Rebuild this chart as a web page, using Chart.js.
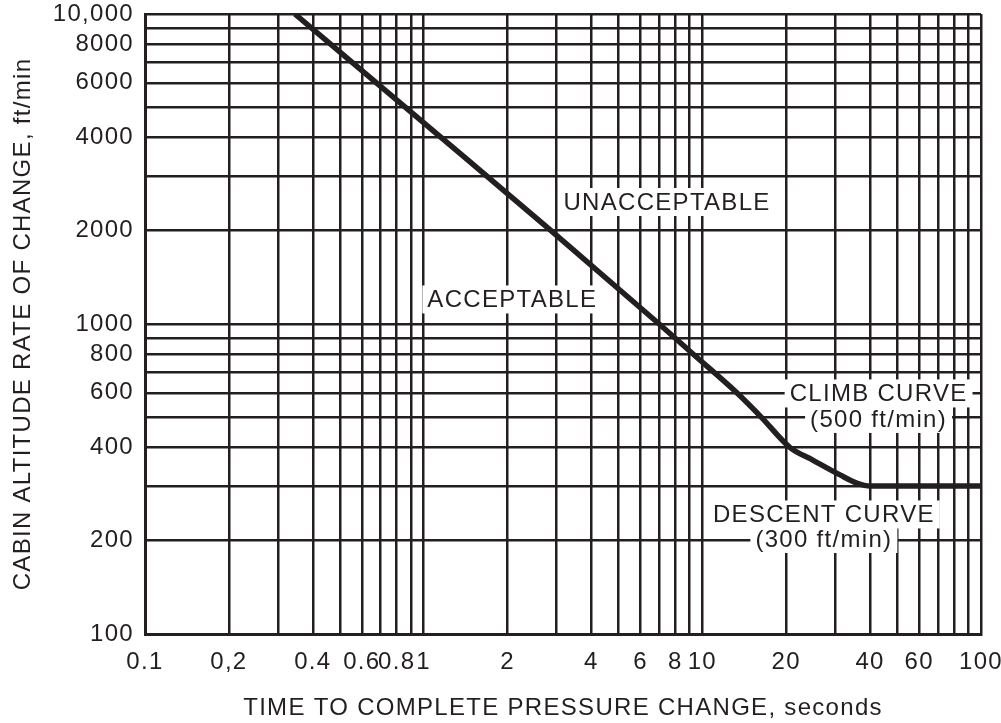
<!DOCTYPE html>
<html>
<head>
<meta charset="utf-8">
<script src="https://cdn.jsdelivr.net/npm/chart.js@4/dist/chart.umd.min.js"></script>
<style>
  html, body { margin: 0; padding: 0; background: #fff; }
  #wrap { width: 1001px; height: 723px; }
</style>
</head>
<body>
<div id="wrap"><canvas id="chart" width="1001" height="723"></canvas></div>
<script>
// curve (seconds, ft/min)
const curveTime = [0.345, 1.154, 2.864, 7.0, 9.26, 13.3, 16.3, 20.6, 24.9, 31.2, 35.8, 40, 60, 100];
const curveRate = [10000, 4000, 2000, 1000, 800, 600, 500, 400, 364, 326, 307, 300, 300, 300];

// grid lines
const xGrid = [0.1, 0.2, 0.3, 0.4, 0.5, 0.6, 0.7, 0.8, 0.9, 1, 2, 3, 4, 5, 6, 7, 8, 9, 10, 20, 30, 40, 50, 60, 70, 80, 90, 100];
const yGrid = [100, 200, 300, 400, 500, 600, 700, 800, 900, 1000, 2000, 3000, 4000, 5000, 6000, 7000, 8000, 9000, 10000];

// tick labels
const xLabelVals = [0.1, 0.2, 0.4, 0.6, 0.8, 1, 2, 4, 6, 8, 10, 20, 40, 60, 100];
const xLabelText = ["0.1", "0,2", "0.4", "0.6", "0.8", "1", "2", "4", "6", "8", "10", "20", "40", "60", "100"];
const yLabelVals = [100, 200, 400, 600, 800, 1000, 2000, 4000, 6000, 8000, 10000];
const yLabelText = ["100", "200", "400", "600", "800", "1000", "2000", "4000", "6000", "8000", "10,000"];

// notes on the chart
const noteText = ["UNACCEPTABLE", "ACCEPTABLE", "CLIMB CURVE", "(500 ft/min)", "DESCENT CURVE", "(300 ft/min)"];
const noteX = [7.47, 2.08, 42.9, 42.9, 27.3, 27.3];
const noteY = [2475, 1200, 597, 494, 243, 202.5];

const ink = "#231f20";
const font = "'Liberation Sans', Arial, Helvetica, sans-serif";
const spacing = "1.3px";

const pickLabel = (vals, texts) => (value) => {
  const i = vals.findIndex((v) => Math.abs(v - value) / v < 1e-6);
  return i >= 0 ? texts[i] : "";
};

// the printed type is a bit wider than Liberation Sans
const spacingPlugin = {
  id: "spacing",
  beforeDraw(chart) {
    chart.ctx.letterSpacing = spacing;
  },
};

const notesPlugin = {
  id: "notes",
  afterDatasetsDraw(chart) {
    const ctx = chart.ctx;
    const xs = chart.scales.x;
    const ys = chart.scales.y;
    ctx.save();
    ctx.letterSpacing = spacing;
    ctx.font = "24px " + font;
    ctx.textAlign = "center";
    ctx.textBaseline = "middle";
    noteText.forEach((t, i) => {
      const px = xs.getPixelForValue(noteX[i]);
      const py = ys.getPixelForValue(noteY[i]);
      const w = ctx.measureText(t).width;
      ctx.fillStyle = "#fff";
      ctx.fillRect(px - w / 2 - 5, py - 14, w + 10, 28);
    });
    noteText.forEach((t, i) => {
      const px = xs.getPixelForValue(noteX[i]);
      const py = ys.getPixelForValue(noteY[i]);
      ctx.fillStyle = ink;
      ctx.fillText(t, px, py + 1);
    });
    ctx.restore();
  },
};

new Chart(document.getElementById("chart"), {
  type: "line",
  data: {
    datasets: [
      {
        data: curveTime.map((t, i) => ({ x: t, y: curveRate[i] })),
        borderColor: ink,
        borderWidth: 5.5,
        pointRadius: 0,
        cubicInterpolationMode: "monotone",
        fill: false,
      },
    ],
  },
  options: {
    responsive: false,
    animation: false,
    layout: { padding: { top: 14, right: 20, left: 0, bottom: 0 } },
    plugins: { legend: { display: false }, tooltip: { enabled: false } },
    scales: {
      x: {
        type: "logarithmic",
        min: 0.1,
        max: 100,
        afterBuildTicks: (s) => { s.ticks = xGrid.map((v) => ({ value: v })); },
        afterFit: (s) => { s.height = 89; s.paddingLeft = 0; s.paddingRight = 0; },
        grid: { color: ink, lineWidth: 2.5, drawTicks: false },
        border: { color: ink, width: 3 },
        ticks: {
          autoSkip: false,
          maxRotation: 0,
          minRotation: 0,
          padding: 14,
          color: ink,
          font: { family: font, size: 24 },
          callback: pickLabel(xLabelVals, xLabelText),
        },
        title: {
          display: true,
          text: "TIME TO COMPLETE PRESSURE CHANGE, seconds",
          color: ink,
          font: { family: font, size: 24 },
          padding: { top: 0, bottom: 0 },
        },
      },
      y: {
        type: "logarithmic",
        min: 100,
        max: 10000,
        afterBuildTicks: (s) => { s.ticks = yGrid.map((v) => ({ value: v })); },
        afterFit: (s) => { s.width = 145; s.paddingTop = 0; s.paddingBottom = 0; },
        grid: { color: ink, lineWidth: 2.5, drawTicks: false },
        border: { color: ink, width: 3 },
        ticks: {
          autoSkip: false,
          padding: 11,
          color: ink,
          font: { family: font, size: 24 },
          callback: pickLabel(yLabelVals, yLabelText),
        },
        title: {
          display: true,
          text: "CABIN ALTITUDE RATE OF CHANGE, ft/min",
          color: ink,
          font: { family: font, size: 24 },
          padding: { top: 9, bottom: 9 },
        },
      },
    },
  },
  plugins: [spacingPlugin, notesPlugin],
});
</script>
</body>
</html>
